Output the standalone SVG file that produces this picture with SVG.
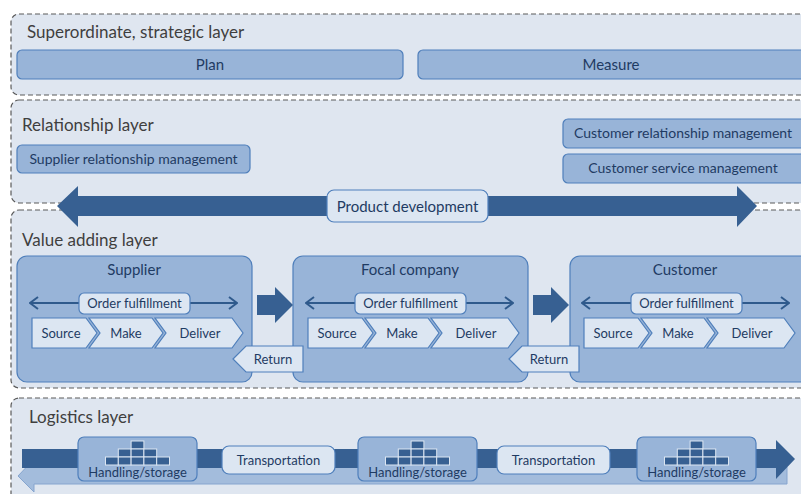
<svg xmlns="http://www.w3.org/2000/svg" width="801" height="494" viewBox="0 0 801 494">
<defs>
<style>
.layer{fill:#dfe6f0;stroke:#5a5a5a;stroke-width:1.2;stroke-dasharray:5 3}
.box{fill:#98b4d8;stroke:#4f7fbb;stroke-width:1.2}
.light{fill:#dce6f2;stroke:#4f7fbb;stroke-width:1.2}
.dark{fill:#376092}
.ltarrow{fill:#a3bcdc;stroke:#86a5cf;stroke-width:1}
.crate{fill:#376092;stroke:#dce6f2;stroke-width:1}
.of{fill:none;stroke:#2f5a8c;stroke-width:2}
text{font-family:Lato,"Liberation Sans",sans-serif;fill:#1f3b63}
.lt{font-size:17px;fill:#3f3f3f}
.t14{font-size:14px;text-anchor:middle}
.t15{font-size:15px;text-anchor:middle}
.t13{font-size:13px;text-anchor:middle}
</style>
<marker id="open" viewBox="0 0 10 14" refX="9" refY="7" markerWidth="10" markerHeight="14" markerUnits="userSpaceOnUse" orient="auto-start-reverse">
<path d="M1,1 L9,7 L1,13" fill="none" stroke="#2f5a8c" stroke-width="2"/>
</marker>
</defs>
<rect width="801" height="494" fill="#ffffff"/>

<g id="layer-strategic">
<rect class="layer" x="11" y="14" width="830" height="81" rx="8"/>
<text class="lt" x="27" y="38">Superordinate, strategic layer</text>
</g>
<g id="plan"><rect class="box" x="17" y="50" width="386" height="29" rx="5"/><text class="t15" x="210" y="70">Plan</text></g>
<g id="measure"><rect class="box" x="418" y="50" width="400" height="29" rx="5"/><text class="t15" x="611" y="70">Measure</text></g>

<g id="layer-relationship">
<rect class="layer" x="11" y="100" width="830" height="103" rx="8"/>
<text class="lt" x="22" y="131">Relationship layer</text>
</g>
<g id="srm"><rect class="box" x="17" y="145" width="233" height="28" rx="5"/><text class="t14" x="133.5" y="164">Supplier relationship management</text></g>
<g id="crm"><rect class="box" x="563" y="119" width="250" height="29" rx="5"/><text class="t14" x="683" y="138">Customer relationship management</text></g>
<g id="csm"><rect class="box" x="563" y="154" width="250" height="29" rx="5"/><text class="t14" x="683" y="173">Customer service management</text></g>

<g id="layer-value">
<rect class="layer" x="11" y="210" width="830" height="178" rx="8"/>
<text class="lt" x="22" y="246">Value adding layer</text>
</g>

<g id="product-development">
<path class="dark" d="M57,206 L78,186 V196 H737 V186 L757,206 L737,227 V216 H78 V227 Z"/>
<rect class="light" x="327" y="190" width="161" height="32" rx="7"/>
<text class="t15" x="407.5" y="212">Product development</text>
</g>

<g id="supplier">
<rect class="box" x="17" y="256" width="235" height="126" rx="10"/>
<text class="t15" x="134" y="275">Supplier</text>
<line class="of" x1="30" y1="303" x2="237" y2="303" marker-start="url(#open)" marker-end="url(#open)"/>
<rect class="light" x="79" y="293" width="111" height="21" rx="5"/>
<text class="t13" x="134.5" y="308">Order fulfillment</text>
<path class="light" d="M32,318 H86 L97,333 L86,348 H32 Z"/>
<path class="light" d="M89,318 H152 L163,333 L152,348 H89 L100,333 Z"/>
<path class="light" d="M155,318 H232 L243,333 L232,348 H155 L166,333 Z"/>
<text class="t13" x="61" y="338">Source</text>
<text class="t13" x="126" y="338">Make</text>
<text class="t13" x="200" y="338">Deliver</text>
</g>

<g id="focal-company">
<rect class="box" x="293" y="256" width="235" height="126" rx="10"/>
<text class="t15" x="410" y="275">Focal company</text>
<line class="of" x1="306" y1="303" x2="513" y2="303" marker-start="url(#open)" marker-end="url(#open)"/>
<rect class="light" x="355" y="293" width="111" height="21" rx="5"/>
<text class="t13" x="410.5" y="308">Order fulfillment</text>
<path class="light" d="M308,318 H362 L373,333 L362,348 H308 Z"/>
<path class="light" d="M365,318 H428 L439,333 L428,348 H365 L376,333 Z"/>
<path class="light" d="M431,318 H508 L519,333 L508,348 H431 L442,333 Z"/>
<text class="t13" x="337" y="338">Source</text>
<text class="t13" x="402" y="338">Make</text>
<text class="t13" x="476" y="338">Deliver</text>
</g>

<g id="customer">
<rect class="box" x="570" y="256" width="250" height="126" rx="10"/>
<text class="t15" x="685" y="275">Customer</text>
<line class="of" x1="582" y1="303" x2="789" y2="303" marker-start="url(#open)" marker-end="url(#open)"/>
<rect class="light" x="631" y="293" width="111" height="21" rx="5"/>
<text class="t13" x="686.5" y="308">Order fulfillment</text>
<path class="light" d="M584,318 H638 L649,333 L638,348 H584 Z"/>
<path class="light" d="M641,318 H704 L715,333 L704,348 H641 L652,333 Z"/>
<path class="light" d="M707,318 H784 L795,333 L784,348 H707 L718,333 Z"/>
<text class="t13" x="613" y="338">Source</text>
<text class="t13" x="678" y="338">Make</text>
<text class="t13" x="752" y="338">Deliver</text>
</g>

<g id="connectors">
<path class="dark" d="M257,295 H275 V287 L293,305 L275,323 V315 H257 Z"/>
<path class="dark" d="M533,295 H551 V287 L569,305 L551,323 V315 H533 Z"/>
<g id="return-1"><path class="light" d="M233,359 L246,346 H303 V372 H246 Z"/><text class="t13" x="273" y="364">Return</text></g>
<g id="return-2"><path class="light" d="M509,359 L522,346 H579 V372 H522 Z"/><text class="t13" x="549" y="364">Return</text></g>
</g>

<g id="layer-logistics">
<rect class="layer" x="11" y="398" width="830" height="120" rx="8"/>
<text class="lt" x="29" y="423">Logistics layer</text>
<path class="ltarrow" d="M18,476 L34,459 V467 H787 V484 H34 V492 Z"/>
<path class="dark" d="M22,449 H776 V440 L795,459 L776,479 V468 H22 Z"/>
</g>

<g id="handling-1">
<rect class="box" x="78" y="437" width="119" height="44" rx="6"/>
<rect class="crate" x="131.1" y="441" width="12.8" height="8"/>
<rect class="crate" x="118.3" y="449" width="12.8" height="8"/><rect class="crate" x="131.1" y="449" width="12.8" height="8"/><rect class="crate" x="143.9" y="449" width="12.8" height="8"/>
<rect class="crate" x="105.5" y="457" width="12.8" height="8"/><rect class="crate" x="118.3" y="457" width="12.8" height="8"/><rect class="crate" x="131.1" y="457" width="12.8" height="8"/><rect class="crate" x="143.9" y="457" width="12.8" height="8"/><rect class="crate" x="156.7" y="457" width="12.8" height="8"/>
<text class="t13" x="137.5" y="477">Handling/storage</text>
</g>
<g id="transportation-1"><rect class="light" x="222" y="446" width="113" height="28" rx="7"/><text class="t13" x="278.5" y="465">Transportation</text></g>
<g id="handling-2">
<rect class="box" x="358" y="437" width="119" height="44" rx="6"/>
<rect class="crate" x="411.1" y="441" width="12.8" height="8"/>
<rect class="crate" x="398.3" y="449" width="12.8" height="8"/><rect class="crate" x="411.1" y="449" width="12.8" height="8"/><rect class="crate" x="423.9" y="449" width="12.8" height="8"/>
<rect class="crate" x="385.5" y="457" width="12.8" height="8"/><rect class="crate" x="398.3" y="457" width="12.8" height="8"/><rect class="crate" x="411.1" y="457" width="12.8" height="8"/><rect class="crate" x="423.9" y="457" width="12.8" height="8"/><rect class="crate" x="436.7" y="457" width="12.8" height="8"/>
<text class="t13" x="417.5" y="477">Handling/storage</text>
</g>
<g id="transportation-2"><rect class="light" x="497" y="446" width="113" height="28" rx="7"/><text class="t13" x="553.5" y="465">Transportation</text></g>
<g id="handling-3">
<rect class="box" x="637" y="437" width="119" height="44" rx="6"/>
<rect class="crate" x="690.1" y="441" width="12.8" height="8"/>
<rect class="crate" x="677.3" y="449" width="12.8" height="8"/><rect class="crate" x="690.1" y="449" width="12.8" height="8"/><rect class="crate" x="702.9" y="449" width="12.8" height="8"/>
<rect class="crate" x="664.5" y="457" width="12.8" height="8"/><rect class="crate" x="677.3" y="457" width="12.8" height="8"/><rect class="crate" x="690.1" y="457" width="12.8" height="8"/><rect class="crate" x="702.9" y="457" width="12.8" height="8"/><rect class="crate" x="715.7" y="457" width="12.8" height="8"/>
<text class="t13" x="696.5" y="477">Handling/storage</text>
</g>
</svg>
